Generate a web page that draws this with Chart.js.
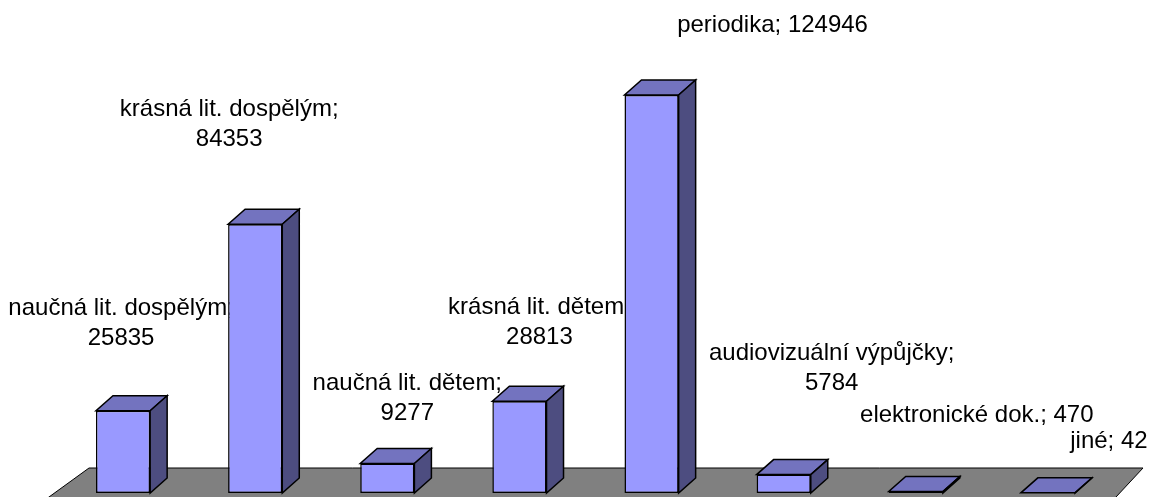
<!DOCTYPE html>
<html>
<head>
<meta charset="utf-8">
<script src="https://cdn.jsdelivr.net/npm/chart.js@4/dist/chart.umd.min.js"></script>
<style>
html,body{margin:0;padding:0;background:#fff}
#wrap{width:1152px;height:497px}
</style>
</head>
<body>
<div id="wrap"><canvas id="cx"></canvas></div>
<script>
const categories=["naučná lit. dospělým","krásná lit. dospělým","naučná lit. dětem","krásná lit. dětem","periodika","audiovizuální výpůjčky","elektronické dok.","jiné"];
const values=[25835,84353,9277,28813,124946,5784,470,42];
// which labels wrap the value onto a second line
const wrapped=[true,true,true,true,false,true,false,false];

// label placement, relative to the top centre of each bar
const labelShift=[[-2,-66],[-26,-78],[20,-43],[20,-57],[121,-63],[48,-85],[61,-70],[61,-45]];
const depth={dx:17,dy:-15};
const font='24px "Liberation Sans", Arial, sans-serif';

const bar3d={
  id:'bar3d',
  beforeDatasetsDraw(chart){
    const ctx=chart.ctx, a=chart.chartArea;
    // floor
    const ty=a.bottom-25, by=a.bottom+14;
    const h=by-ty;
    ctx.save();
    ctx.beginPath();
    ctx.moveTo(a.left+32,ty);
    ctx.lineTo(a.right+29,ty);
    ctx.lineTo(a.right+29-h*27/29,by);
    ctx.lineTo(a.left+32-h*40/29,by);
    ctx.closePath();
    ctx.fillStyle='#808080';
    ctx.fill();
    ctx.lineWidth=1;
    ctx.strokeStyle='#000';
    ctx.stroke();
    // labels (bars are drawn over them)
    const meta=chart.getDatasetMeta(0);
    ctx.font=font;
    ctx.fillStyle='#000';
    ctx.textAlign='center';
    ctx.textBaseline='alphabetic';
    meta.data.forEach((el,i)=>{
      const p=el.getProps(['x','y'],true);
      const lines=wrapped[i]?[categories[i]+';',String(values[i])]:[categories[i]+'; '+values[i]];
      const x=p.x+labelShift[i][0];
      let y=p.y+labelShift[i][1]-(lines.length-1)*30;
      for(const l of lines){ctx.fillText(l,x,y);y+=30;}
    });
    ctx.restore();
  },
  afterDatasetsDraw(chart){
    const ctx=chart.ctx;
    const meta=chart.getDatasetMeta(0);
    ctx.save();
    ctx.lineWidth=1.5;
    ctx.lineJoin='miter';
    ctx.strokeStyle='#000';
    meta.data.forEach(el=>{
      const p=el.getProps(['x','y','base','width'],true);
      const l=p.x-p.width/2, r=p.x+p.width/2, t=p.y, b=p.base;
      // top
      ctx.beginPath();
      ctx.moveTo(l,t);ctx.lineTo(r,t);ctx.lineTo(r+depth.dx,t+depth.dy);ctx.lineTo(l+depth.dx,t+depth.dy);
      ctx.closePath();
      ctx.fillStyle='#7373BF';
      ctx.fill();ctx.stroke();
      // side
      ctx.beginPath();
      ctx.moveTo(r,t);ctx.lineTo(r+depth.dx,t+depth.dy);ctx.lineTo(r+depth.dx,b+depth.dy);ctx.lineTo(r,b);
      ctx.closePath();
      ctx.fillStyle='#4D4D80';
      ctx.fill();ctx.stroke();
    });
    ctx.restore();
  }
};

new Chart("cx",{
  type:"bar",
  data:{
    labels:categories,
    datasets:[{
      data:values,
      backgroundColor:"#9999FF",
      borderColor:"#000",
      borderWidth:1.5,
      borderSkipped:false,
      barPercentage:0.41,
      categoryPercentage:1
    }]
  },
  options:{
    responsive:true,
    maintainAspectRatio:false,
    animation:false,
    layout:{padding:{top:47,bottom:4,left:57,right:38}},
    plugins:{legend:{display:false},tooltip:{enabled:false}},
    scales:{
      x:{display:false},
      y:{display:false,min:0,max:140000}
    }
  },
  plugins:[bar3d]
});
</script>
</body>
</html>
